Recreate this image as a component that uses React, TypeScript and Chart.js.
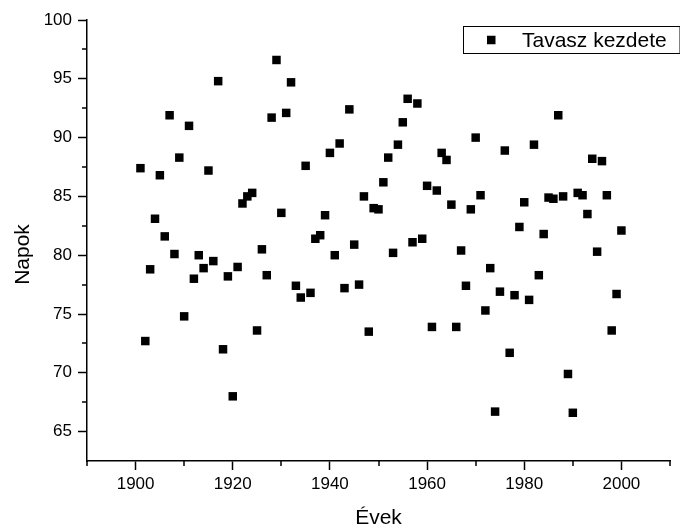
import React, { useEffect, useRef } from 'react';
import { Chart, registerables } from 'chart.js';

Chart.register(...registerables);

// Year of each observation
const years = [
  1901, 1902, 1903, 1904, 1905, 1906, 1907, 1908, 1909, 1910,
  1911, 1912, 1913, 1914, 1915, 1916, 1917, 1918, 1919, 1920,
  1921, 1922, 1923, 1924, 1925, 1926, 1927, 1928, 1929, 1930,
  1931, 1932, 1933, 1934, 1935, 1936, 1937, 1938, 1939, 1940,
  1941, 1942, 1943, 1944, 1945, 1946, 1947, 1948, 1949, 1950,
  1951, 1952, 1953, 1954, 1955, 1956, 1957, 1958, 1959, 1960,
  1961, 1962, 1963, 1964, 1965, 1966, 1967, 1968, 1969, 1970,
  1971, 1972, 1973, 1974, 1975, 1976, 1977, 1978, 1979, 1980,
  1981, 1982, 1983, 1984, 1985, 1986, 1987, 1988, 1989, 1990,
  1991, 1992, 1993, 1994, 1995, 1996, 1997, 1998, 1999, 2000,
];

// Start of spring, in days, for each year
const springStart = [
  87.4, 72.7, 78.8, 83.1, 86.8, 81.6, 91.9, 80.1, 88.3, 74.8,
  91.0, 78.0, 80.0, 78.9, 87.2, 79.5, 94.8, 72.0, 78.2, 68.0,
  79.0, 84.4, 85.0, 85.3, 73.6, 80.5, 78.3, 91.7, 96.6, 83.6,
  92.1, 94.7, 77.4, 76.4, 87.6, 76.8, 81.4, 81.7, 83.4, 88.7,
  80.0, 89.5, 77.2, 92.4, 80.9, 77.5, 85.0, 73.5, 84.0, 83.9,
  86.2, 88.3, 80.2, 89.4, 91.3, 93.3, 81.1, 92.9, 81.4, 85.9,
  73.9, 85.5, 88.7, 88.1, 84.3, 73.9, 80.4, 77.4, 83.9, 90.0,
  85.1, 75.3, 78.9, 66.7, 76.9, 88.9, 71.7, 76.6, 82.4, 84.5,
  76.2, 89.4, 78.3, 81.8, 84.9, 84.8, 91.9, 85.0, 69.9, 66.6,
  85.3, 85.1, 83.5, 88.2, 80.3, 88.0, 85.1, 73.6, 76.7, 82.1,
];

const seriesLabel = 'Tavasz kezdete';
const xTitle = 'Évek';
const yTitle = 'Napok';

const xTicks = [1900, 1920, 1940, 1960, 1980, 2000];
const xMinorTicks = [1890, 1910, 1930, 1950, 1970, 1990, 2010];
const yTicks = [65, 70, 75, 80, 85, 90, 95, 100];
const yMinorTicks = [67.5, 72.5, 77.5, 82.5, 87.5, 92.5, 97.5];

const FONT = "'Liberation Sans', Arial, Helvetica, sans-serif";
const INK = '#000000';

// Minor ticks, axis titles and the framed legend
const decorations = {
  id: 'decorations',
  afterDraw(chart: any) {
    const { ctx, chartArea, scales } = chart;
    const xs = scales.x;
    const ys = scales.y;
    ctx.save();
    ctx.strokeStyle = INK;
    ctx.lineWidth = 1.5;

    // minor ticks
    ctx.beginPath();
    xMinorTicks.forEach((v) => {
      const px = Math.round(xs.getPixelForValue(v));
      ctx.moveTo(px, chartArea.bottom);
      ctx.lineTo(px, chartArea.bottom + 5);
    });
    yMinorTicks.forEach((v) => {
      const py = Math.round(ys.getPixelForValue(v));
      ctx.moveTo(chartArea.left, py);
      ctx.lineTo(chartArea.left - 5, py);
    });
    ctx.stroke();

    // axis titles
    ctx.fillStyle = INK;
    ctx.font = `21px ${FONT}`;
    ctx.textAlign = 'center';
    ctx.textBaseline = 'alphabetic';
    ctx.fillText(xTitle, (chartArea.left + chartArea.right) / 2, chartArea.bottom + 63);

    ctx.save();
    ctx.translate(chartArea.left - 58, (chartArea.top + chartArea.bottom) / 2 + 14);
    ctx.rotate(-Math.PI / 2);
    ctx.fillText(yTitle, 0, 0);
    ctx.restore();

    // legend
    const boxLeft = chartArea.right - 207;
    const boxTop = chartArea.top + 6;
    const boxW = chart.width - boxLeft - 0.5;
    const boxH = 27;
    ctx.lineWidth = 1;
    ctx.strokeRect(boxLeft + 0.5, boxTop + 0.5, boxW, boxH);
    const cy = boxTop + boxH / 2 + 0.5;
    ctx.fillRect(boxLeft + 24, cy - 4.25, 8.5, 8.5);
    ctx.textAlign = 'left';
    ctx.textBaseline = 'alphabetic';
    ctx.fillText(chart.data.datasets[0].label, boxLeft + 59, boxTop + 21);

    ctx.restore();
  },
};

export default function App() {
  const canvasRef = useRef<HTMLCanvasElement | null>(null);

  useEffect(() => {
    if (!canvasRef.current) return;
    const chart = new Chart(canvasRef.current, {
      type: 'scatter',
      data: {
        datasets: [
          {
            label: seriesLabel,
            data: years.map((yr, i) => ({ x: yr, y: springStart[i] })),
            pointStyle: 'rect',
            pointRadius: 6,
            pointHoverRadius: 6,
            pointBorderWidth: 0,
            backgroundColor: INK,
            borderColor: INK,
          },
        ],
      },
      options: {
        responsive: false,
        animation: false,
        events: [],
        layout: { padding: { left: 0, top: 20, right: 10, bottom: 0 } },
        plugins: {
          legend: { display: false },
          tooltip: { enabled: false },
          title: { display: false },
        },
        scales: {
          x: {
            type: 'linear',
            min: 1890,
            max: 2010,
            afterBuildTicks: (scale: any) => {
              scale.ticks = xTicks.map((v) => ({ value: v }));
            },
            afterFit: (scale: any) => {
              scale.height = 65;
            },
            ticks: {
              color: INK,
              font: { family: FONT, size: 17 },
              padding: 4,
              maxRotation: 0,
              autoSkip: false,
              callback: (v: any) => String(v),
            },
            grid: {
              drawOnChartArea: false,
              drawTicks: true,
              tickLength: 9,
              tickWidth: 1.5,
              tickColor: INK,
            },
            border: { display: true, color: INK, width: 1.5 },
          },
          y: {
            type: 'linear',
            min: 62.5,
            max: 100,
            afterBuildTicks: (scale: any) => {
              scale.ticks = yTicks.map((v) => ({ value: v }));
            },
            afterFit: (scale: any) => {
              scale.width = 87;
            },
            ticks: {
              color: INK,
              font: { family: FONT, size: 17 },
              padding: 6,
              autoSkip: false,
              callback: (v: any) => String(v),
            },
            grid: {
              drawOnChartArea: false,
              drawTicks: true,
              tickLength: 9,
              tickWidth: 1.5,
              tickColor: INK,
            },
            border: { display: true, color: INK, width: 1.5 },
          },
        },
      },
      plugins: [decorations],
    });
    return () => chart.destroy();
  }, []);

  return (
    <div style={{ position: 'absolute', left: 0, top: 0, width: 680, height: 526, background: '#fff' }}>
      <canvas ref={canvasRef} width={680} height={526} />
    </div>
  );
}
